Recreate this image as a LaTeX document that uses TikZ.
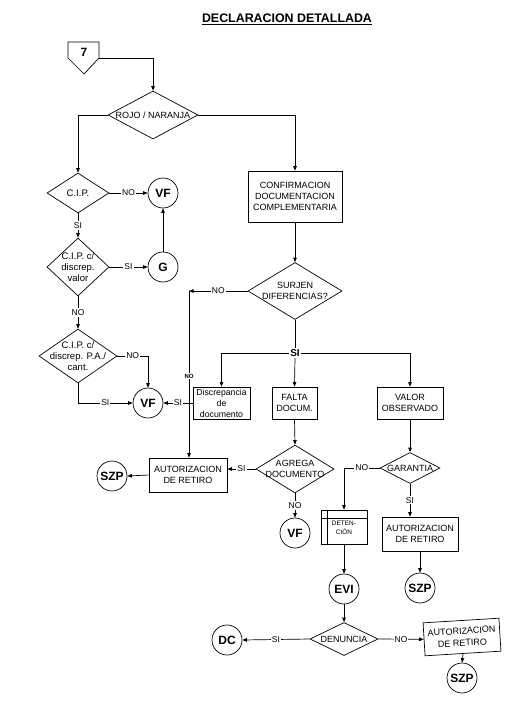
\documentclass[tikz,border=0pt]{standalone}
\usepackage{fontspec}
\setmainfont{Liberation Sans}
\usetikzlibrary{shapes.geometric,arrows.meta}
\begin{document}
\begin{tikzpicture}[x=1pt,y=-1pt,line width=0.7pt,
  box/.style={draw,rectangle,inner sep=0pt,align=center,font=\fontsize{9}{11}\selectfont},
  dia/.style={draw,diamond,inner sep=0pt},
  dtext/.style={align=center,inner sep=0pt,font=\fontsize{9}{11}\selectfont},
  ltext/.style={align=center,inner sep=0pt,font=\fontsize{9.5}{11}\selectfont},
  circ/.style={draw,circle,minimum size=30pt,inner sep=0pt,font=\fontsize{12}{14}\selectfont\bfseries},
  lbl/.style={fill=white,inner sep=1pt,font=\fontsize{8.5}{10}\selectfont},
  lblb/.style={fill=white,inner sep=1pt,font=\fontsize{10}{12}\selectfont\bfseries},
  lbls/.style={fill=white,inner sep=1pt,font=\fontsize{6}{7}\selectfont\bfseries},
  arr/.style={-{Triangle[length=4.5pt,width=3.5pt]}}]
\useasboundingbox (0,0) rectangle (530,714);

\node[font=\fontsize{12.4}{14}\selectfont\bfseries] (title) at (287,19) {\underline{DECLARACION DETALLADA}};

% off-page connector 7
\draw (68,42) -- (99,42) -- (99,58) -- (84,74) -- (68,58) -- cycle;
\node[font=\fontsize{12}{14}\selectfont\bfseries] (n7) at (84,52) {7};
\coordinate (n7r) at (99,58);
\coordinate (c1) at (153,58);

% top decision
\node[dia,minimum width=90,minimum height=48] (rojo) at (153,115) {};
\node[dtext] (rojot) at (rojo) {ROJO / NARANJA};
\draw[arr] (n7r) -- (c1) -- (rojo.north);

% left column
\node[dia,minimum width=62,minimum height=40] (cip) at (78,193) {};
\node[ltext] (cipt) at (cip) {C.I.P.};
\node[circ] (vf1) at (163,193) {VF};
\node[dia,minimum width=62,minimum height=58] (cipv) at (78,267) {};
\node[ltext] (cipvt) at (cipv) {C.I.P. c/\\discrep.\\valor};
\node[circ] (g) at (163,267) {G};
\node[dia,minimum width=78,minimum height=54] (cipp) at (78,356) {};
\node[ltext] (cippt) at (cipp) {C.I.P. c/\\discrep. P.A./\\cant.};
\node[circ] (vf2) at (148,403) {VF};

\draw[arr] (rojo.west) -| (cip.north);
\draw[arr] (cip.east) -- node[lbl]{NO} (vf1.west);
\draw[arr] (cip.south) -- node[lbl]{SI} (cipv.north);
\draw[arr] (cipv.east) -- node[lbl]{SI} (g.west);
\draw[arr] (g.north) -- (vf1.south);
\draw[arr] (cipv.south) -- node[lbl]{NO} (cipp.north);
\draw[arr] (cipp.east) -| node[lbl,pos=0.25]{NO} (vf2.north);
\draw[arr] (cipp.south) |- node[lbl,pos=0.75]{SI} (vf2.west);

% right column
\node[box,minimum width=94,minimum height=51] (conf) at (295,196.5) {CONFIRMACION\\DOCUMENTACION\\COMPLEMENTARIA};
\node[dia,minimum width=94,minimum height=57] (surj) at (295,291) {};
\node[dtext] (surjt) at (surj) {SURJEN\\DIFERENCIAS?};
\draw[arr] (rojo.east) -| (conf.north);
\draw[arr] (conf.south) -- (surj.north);

\node[lblb] (si) at (295,353) {SI};
\node[box,minimum width=57,minimum height=32,font=\fontsize{8.7}{11}\selectfont] (disc) at (221.5,403) {Discrepancia\\de\\documento};
\node[box,minimum width=45,minimum height=32] (falta) at (294.5,403) {FALTA\\DOCUM.};
\node[box,minimum width=66,minimum height=32] (valor) at (410,403) {VALOR\\OBSERVADO};
\draw (surj.south) -- (si.north);
\draw[arr] (si.south) -- (falta.north);
\draw[arr] (si.west) -| (disc.north);
\draw[arr] (si.east) -| (valor.north);
\draw[arr] (disc.west) -- node[lbl]{SI} (vf2.east);

\node[box,minimum width=78,minimum height=34] (aut1) at (188,475) {AUTORIZACION\\DE RETIRO};
\coordinate (nocorner) at (189,291);
\draw[arr] (surj.west) -- node[lbl]{NO} (nocorner);
\draw[arr] (nocorner) -- node[lbls,pos=0.51]{NO} (nocorner |- aut1.north);

\node[dia,minimum width=78,minimum height=48] (agrega) at (295,469) {};
\node[dtext] (agregat) at (agrega) {AGREGA\\DOCUMENTO};
\node[circ] (szp1) at (112,476) {SZP};
\node[circ] (vf3) at (295,533) {VF};
\draw[arr] (falta.south) -- (agrega.north);
\draw[arr] (agrega.west) -- node[lbl]{SI} (agrega.west -| aut1.east);
\draw[arr] (aut1.west) -- (szp1.east);
\draw[arr] (agrega.south) -- node[lbl]{NO} (vf3.north);

\node[dia,minimum width=60,minimum height=31] (gar) at (410,468) {};
\node[dtext] (gart) at (gar) {GARANTIA};
\draw[arr] (valor.south) -- (gar.north);

\node[draw,rectangle,minimum width=46,minimum height=34,inner sep=0pt] (deten) at (344,527) {};
\draw ([xshift=7pt]deten.north west) -- ([xshift=7pt]deten.south west);
\draw ([yshift=-9pt]deten.north west) -- ([yshift=-9pt]deten.north east);
\node[align=center,inner sep=0pt,font=\fontsize{6.5}{9.5}\selectfont] (detent) at (344,528) {DETEN-\\CIÓN};
\draw[arr] (gar.west) -| node[lbl,pos=0.25]{NO} (deten.north);

\node[box,minimum width=76,minimum height=34] (aut2) at (420,534) {AUTORIZACION\\DE RETIRO};
\draw[arr] (gar.south) -- node[lbl]{SI} (gar.south |- aut2.north);
\node[circ] (szp2) at (420,588) {SZP};
\draw[arr] (aut2.south) -- (szp2.north);

\node[circ] (evi) at (344,589) {EVI};
\draw[arr] (deten.south) -- (evi.north);

\node[dia,minimum width=68,minimum height=33] (den) at (344,639) {};
\node[dtext] (dent) at (den) {DENUNCIA};
\draw[arr] (evi.south) -- (den.north);
\node[circ] (dc) at (227,640) {DC};
\draw[arr] (den.west) -- node[lbl]{SI} (dc.east);

\node[box,minimum width=76,minimum height=33,rotate=3.5,font=\fontsize{9}{12}\selectfont] (aut3) at (462,637) {AUTORIZACION\\DE RETIRO};
\draw[arr] (den.east) -- node[lbl]{NO} (aut3.west);
\node[circ] (szp3) at (462,678) {SZP};
\draw[arr] (aut3.south) -- (szp3.north);
\end{tikzpicture}
\end{document}
